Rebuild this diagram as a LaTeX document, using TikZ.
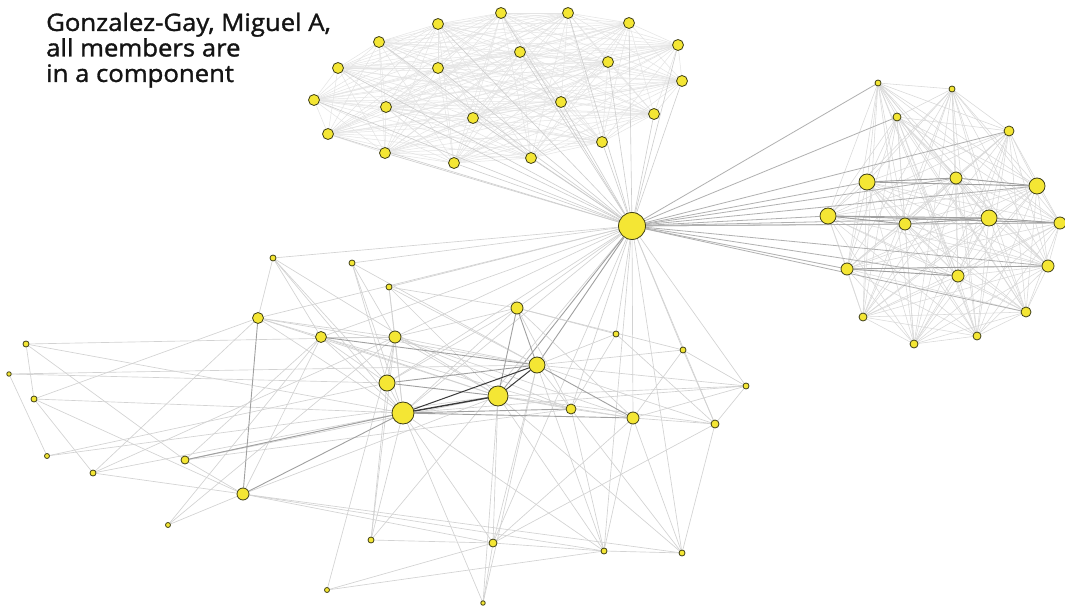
\documentclass[tikz,border=0pt]{standalone}
\usepackage{fontspec}
\setmainfont{Open Sans}
\newfontfamily\lblfont{Open Sans}[FakeBold=1.3, FakeStretch=1.07]
\usetikzlibrary{backgrounds}
\definecolor{nodefill}{HTML}{F4E634}
\definecolor{nodeline}{HTML}{3E3E16}
\definecolor{etop}{HTML}{E4E4E4}
\definecolor{ehub}{HTML}{CDCDCD}
\definecolor{eright}{HTML}{D9D9D9}
\definecolor{ehr}{HTML}{B0B0B0}
\definecolor{ebot}{HTML}{D2D2D2}
\definecolor{emid}{HTML}{A0A0A0}
\definecolor{edark}{HTML}{3A3A3A}
\tikzset{
  nd/.style={circle, draw=nodeline, fill=nodefill, line width=0.8pt, inner sep=0pt, minimum size=#1},
  nd/.default=10pt,
  etopst/.style={draw=etop, line width=0.5pt},
  ehubst/.style={draw=ehub, line width=0.6pt},
  erightst/.style={draw=eright, line width=0.55pt},
  ehrst/.style={draw=ehr, line width=0.8pt},
  ebotst/.style={draw=ebot, line width=0.65pt},
  emidst/.style={draw=emid, line width=0.9pt},
  edarkst/.style={draw=edark, line width=1.4pt},
  label/.style={font=\lblfont\fontsize{24}{25.5}\selectfont, text=black!92, align=left, inner sep=0pt, anchor=north west}
}
\begin{document}
\begin{tikzpicture}[x=1pt,y=-1pt]
\useasboundingbox (0,0) rectangle (1065,612);
% hub
\node[nd=27pt] (h) at (632,226) {};
% top cluster
\foreach \n/\x/\y in {1/438/24, 2/501/13, 3/568/13, 4/629/23, 5/678/45, 6/379/42, 7/520/52,
  8/608/62, 9/682/81, 10/338/68, 11/438/68, 12/314/100, 13/386/107, 14/561/102, 15/473/118,
  16/654/114, 17/328/134, 18/602/142, 19/385/153, 20/454/163, 21/531/158}
  \node[nd=11pt] (t\n) at (\x,\y) {};
% right cluster
\foreach \n/\x/\y/\s in {1/878/83/6, 2/952/89/6, 3/897/117/8, 4/1009/131/10, 5/867/182/16,
  6/956/178/12, 7/1037/186/16, 8/828/216/16, 9/905/224/12, 10/989/218/16, 11/1060/223/12,
  12/847/269/12, 13/958/276/12, 14/1048/266/12, 15/863/317/8, 16/1026/312/10,
  17/914/344/8, 18/977/336/8}
  \node[nd=\s pt] (r\n) at (\x,\y) {};
% bottom cluster
\foreach \n/\x/\y/\s in {1/273/258/6, 2/352/263/6, 3/389/287/6, 4/258/318/11, 5/321/337/11,
  6/395/337/12, 7/26/344/6, 8/9/374/4.5, 9/34/399/6, 10/387/383/16, 11/403/413/22,
  12/47/456/5, 13/185/460/8, 14/93/473/6, 15/243/494/12, 16/168/525/5, 17/371/540/6,
  18/327/590/5, 19/517/308/12, 20/616/334/6, 21/683/350/6, 22/537/365/16, 23/498/396/20,
  24/571/409/10, 25/633/418/12, 26/746/386/6, 27/715/424/8, 28/493/543/8, 29/604/551/6,
  30/682/553/6, 31/483/603/4.5}
  \node[nd=\s pt] (b\n) at (\x,\y) {};
% text
\node[label] (txt) at (46,12.5) {Gonzalez-Gay, Miguel A,\\all members are\\in a component};
\begin{scope}[on background layer]
  \fill[white] (0,0) rectangle (1065,612);
  % top cluster mesh
  \foreach \i in {1,...,20} {
    \pgfmathtruncatemacro\s{\i+1}
    \foreach \j in {\s,...,21} { \draw[etopst] (t\i) -- (t\j); }
  }
  \foreach \i in {1,...,21} { \draw[ehubst] (h) -- (t\i); }
  % right cluster mesh
  \foreach \i in {1,...,17} {
    \pgfmathtruncatemacro\s{\i+1}
    \foreach \j in {\s,...,18} { \draw[erightst] (r\i) -- (r\j); }
  }
  \foreach \i in {1,3,4,5,6,7,8,9,10,11,12,13,14,16} { \draw[ehrst] (h) -- (r\i); }
  \foreach \a/\b in {5/7, 8/10, 8/11, 9/10, 5/6, 12/14, 12/13, 6/7, 10/11, 8/9}
    { \draw[emidst] (r\a) -- (r\b); }
  % hub to bottom cluster
  \foreach \i in {1,2,3,4,5,6,10,11,17,19,20,21,24,25,26,27,28,29,30}
    { \draw[ebotst] (h) -- (b\i); }
  \draw[emidst] (h) -- (b22);
  \draw[emidst] (h) -- (b23);
  % bottom cluster edges
  \foreach \a/\b in {7/6, 7/11, 7/13, 7/9, 8/10, 8/12, 8/22, 9/4, 9/14, 9/11, 9/15,
    12/10, 12/23, 14/15, 14/6, 14/11, 13/11, 13/15, 13/5, 13/23, 13/24,
    15/5, 15/16, 15/28, 15/29, 15/23, 15/30, 16/5, 16/6,
    4/5, 4/11, 4/1, 4/22, 4/23, 4/6, 4/14, 1/5, 1/11, 1/10, 1/23,
    2/10, 2/11, 2/22, 2/6, 3/6, 3/11, 3/22, 3/23, 3/19,
    5/11, 5/10, 5/6, 5/23, 5/24, 6/10, 6/11, 6/19, 6/22, 6/23, 6/24, 6/25,
    10/11, 10/19, 11/28, 11/29, 11/17, 11/31, 11/19, 11/26,
    19/24, 19/25, 19/21, 19/20, 22/24, 22/26, 22/21, 22/27, 22/29,
    23/24, 23/25, 23/28, 23/29, 23/30, 23/27, 24/25, 24/29, 24/30,
    25/27, 25/26, 25/29, 25/30, 25/28, 20/22, 20/24, 20/27, 21/26, 21/25, 21/27,
    26/27, 26/23, 27/30, 27/28, 28/29, 28/31, 28/17, 28/22, 29/30,
    17/10, 17/6, 18/28, 18/29, 18/6, 31/22, 31/23}
    { \draw[ebotst] (b\a) -- (b\b); }
  \foreach \a/\b in {10/22, 10/23, 11/15, 11/24, 11/25, 4/15, 19/22, 19/23, 22/25, 5/22, 13/11}
    { \draw[emidst] (b\a) -- (b\b); }
  \draw[edarkst] (b11) -- (b23);
  \draw[edarkst, line width=1pt] (b11) -- (b22);
  \draw[edarkst, line width=1pt] (b23) -- (b22);
\end{scope}
\end{tikzpicture}
\end{document}
